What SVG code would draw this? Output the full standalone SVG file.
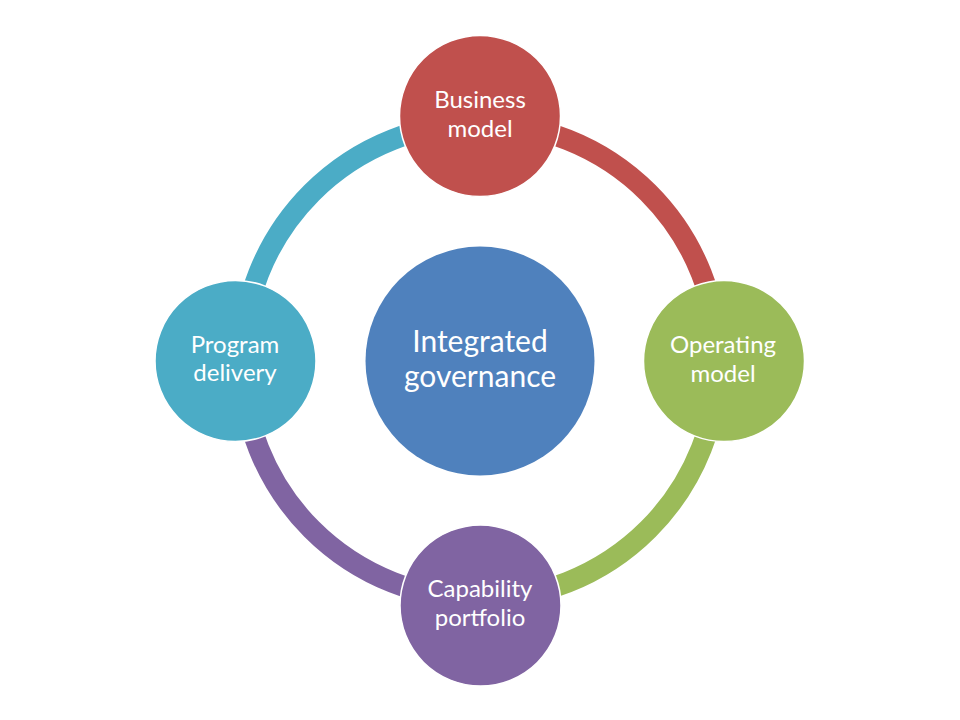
<svg xmlns="http://www.w3.org/2000/svg" width="960" height="720" viewBox="0 0 960 720">
<style>
.arc{fill:none;stroke-width:21}
.node{stroke:#ffffff;stroke-width:1.5}
.lbl{font-family:Lato,"Open Sans","Liberation Sans",sans-serif;fill:#ffffff;text-anchor:middle;font-size:24px}
.big{font-size:30px}
</style>
<rect width="960" height="720" fill="#ffffff"/>
<g id="connectors">
<path class="arc" stroke="#C0504D" d="M480,123 A238,238 0 0 1 718,361"/>
<path class="arc" stroke="#9BBB59" d="M718,361 A238,238 0 0 1 480,599"/>
<path class="arc" stroke="#8064A2" d="M480,599 A238,238 0 0 1 242,361"/>
<path class="arc" stroke="#4BACC6" d="M242,361 A238,238 0 0 1 480,123"/>
</g>
<g id="center">
<circle cx="480" cy="361" r="114.5" fill="#4F81BD"/>
<text class="lbl big" x="480" y="352">Integrated</text>
<text class="lbl big" x="480" y="387">governance</text>
</g>
<g id="business-model">
<circle class="node" cx="480" cy="116" r="80.5" fill="#C0504D"/>
<text class="lbl" x="480" y="108">Business</text>
<text class="lbl" x="480" y="137">model</text>
</g>
<g id="operating-model">
<circle class="node" cx="724" cy="361" r="80.5" fill="#9BBB59"/>
<text class="lbl" x="723" y="353">Operating</text>
<text class="lbl" x="723" y="382">model</text>
</g>
<g id="capability-portfolio">
<circle class="node" cx="480.5" cy="605.5" r="80.5" fill="#8064A2"/>
<text class="lbl" x="480" y="597">Capability</text>
<text class="lbl" x="480" y="626">portfolio</text>
</g>
<g id="program-delivery">
<circle class="node" cx="235.5" cy="361" r="80.5" fill="#4BACC6"/>
<text class="lbl" x="235" y="353">Program</text>
<text class="lbl" x="235" y="381">delivery</text>
</g>
</svg>
